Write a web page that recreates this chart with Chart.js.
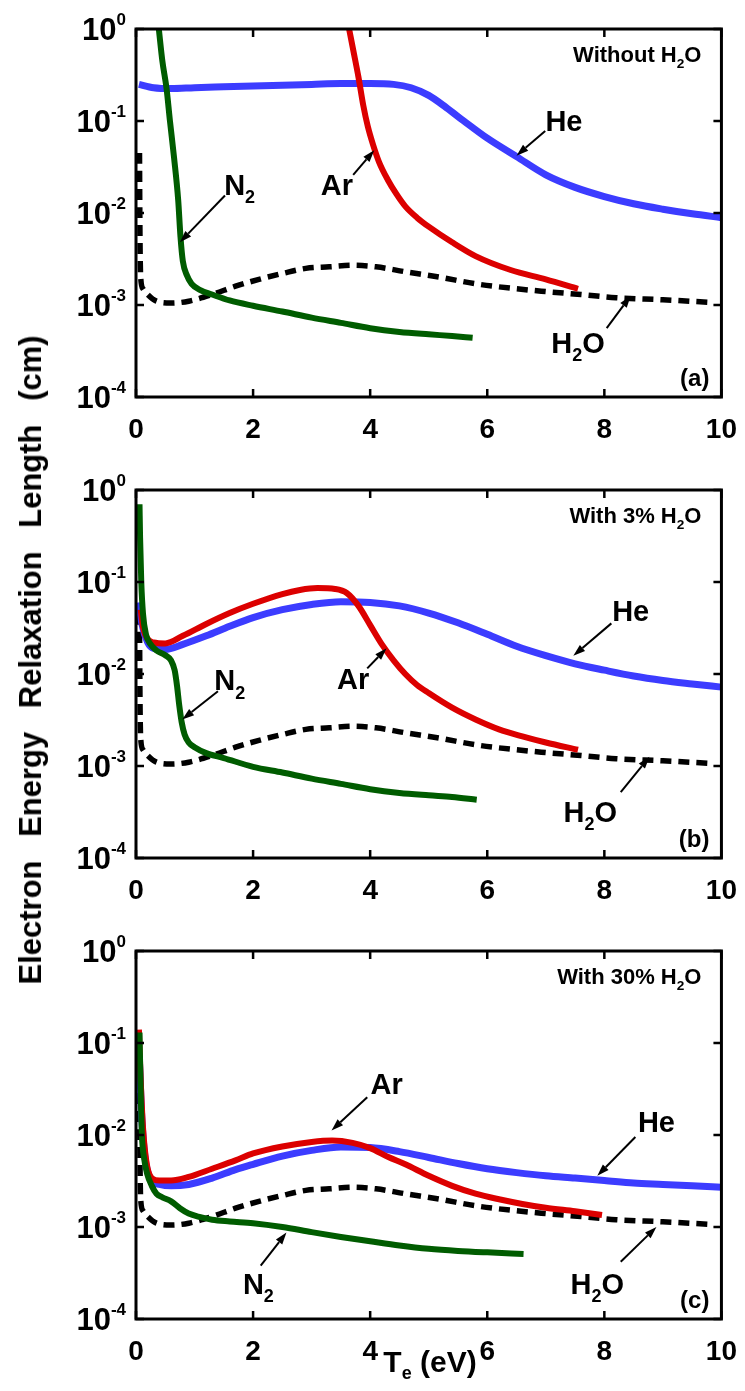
<!DOCTYPE html>
<html>
<head>
<meta charset="utf-8">
<script src="https://cdn.jsdelivr.net/npm/chart.js@4.4.0/dist/chart.umd.min.js"></script>
<style>
  body { margin: 0; background: #fff; }
  #wrap { position: relative; width: 745px; height: 1391px; overflow: hidden; background: #fff; }
  canvas { position: absolute; left: 0; }
  #ylab { position: absolute; left: 31px; top: 660px; transform: translate(-50%, -50%) rotate(-90deg);
          white-space: nowrap; font: bold 31px "Liberation Sans", Arial, sans-serif; word-spacing: 15px; color: #000; }
  #xlab { position: absolute; left: 430px; top: 1364px; transform: translate(-50%, -50%);
          white-space: nowrap; font: bold 30px "Liberation Sans", Arial, sans-serif; color: #000; }
  #xlab sub { font-size: 18px; vertical-align: -7px; }
</style>
</head>
<body>
<div id="wrap">
  <canvas id="pa" width="745" height="461" style="top:0px"></canvas>
  <canvas id="pb" width="745" height="461" style="top:461px"></canvas>
  <canvas id="pc" width="745" height="469" style="top:922px"></canvas>
  <div id="ylab">Electron Energy Relaxation Length (cm)</div>
  <div id="xlab">T<sub>e</sub> (eV)</div>
</div>
<script>
// ---- data (Te in eV, relaxation length in cm) ----
const yTicks = [1, 0.1, 0.01, 0.001, 0.0001];
const xTicks = [0, 2, 4, 6, 8, 10];

// pure H2O, same curve in every panel
const te_H2O  = [0.06, 0.065, 0.07, 0.08, 0.12, 0.2, 0.35, 0.6, 0.9, 1.3, 1.7, 2.1, 2.5, 2.9, 3.3, 3.7, 4.1, 4.6, 5.2, 5.8, 6.5, 7.0, 7.6, 8.2, 9.0, 9.8];
const len_H2O = [0.045, 0.01, 0.004, 0.002, 0.0015, 0.0013, 0.0011, 0.00105, 0.0011, 0.0013, 0.0016, 0.0019, 0.0022, 0.0025, 0.0026, 0.0027, 0.0026, 0.0023, 0.002, 0.0017, 0.0015, 0.0014, 0.0013, 0.0012, 0.00114, 0.00107];

// (a) without H2O
const te_He_a  = [0.05, 0.3, 0.6, 1.0, 1.5, 2.0, 2.5, 3.0, 3.5, 4.0, 4.4, 4.7, 5.0, 5.3, 5.6, 6.0, 6.5, 7.0, 7.5, 8.0, 8.5, 9.0, 9.5, 10];
const len_He_a = [0.25, 0.23, 0.225, 0.23, 0.235, 0.24, 0.245, 0.25, 0.255, 0.255, 0.25, 0.23, 0.19, 0.14, 0.1, 0.065, 0.041, 0.026, 0.019, 0.0151, 0.0126, 0.011, 0.0098, 0.0089];
const te_Ar_a  = [3.64, 3.72, 3.8, 3.88, 3.96, 4.05, 4.15, 4.3, 4.45, 4.6, 4.8, 5.0, 5.4, 5.8, 6.4, 7.0, 7.55];
const len_Ar_a = [1.0, 0.55, 0.3, 0.15, 0.087, 0.055, 0.036, 0.023, 0.016, 0.0118, 0.0089, 0.0071, 0.0048, 0.0034, 0.0024, 0.0019, 0.0015];
const te_N2_a  = [0.39, 0.45, 0.52, 0.58, 0.65, 0.72, 0.76, 0.8, 0.87, 0.95, 1.1, 1.3, 1.6, 2.0, 2.5, 3.0, 3.5, 4.0, 4.5, 5.0, 5.4, 5.75];
const len_N2_a = [1.0, 0.45, 0.23, 0.1, 0.04, 0.014, 0.0055, 0.003, 0.0021, 0.0017, 0.00145, 0.0013, 0.00112, 0.00098, 0.00085, 0.00073, 0.00064, 0.00056, 0.00051, 0.00048, 0.00046, 0.00044];

// (b) with 3% H2O
const te_He_b  = [0.05, 0.1, 0.2, 0.3, 0.5, 0.8, 1.2, 1.6, 2.0, 2.5, 3.0, 3.5, 4.0, 4.5, 5.0, 5.5, 6.0, 6.5, 7.0, 7.5, 8.0, 8.5, 9.0, 9.5, 10];
const len_He_b = [0.06, 0.035, 0.022, 0.019, 0.0185, 0.021, 0.026, 0.033, 0.041, 0.05, 0.057, 0.061, 0.06, 0.055, 0.046, 0.036, 0.027, 0.02, 0.0158, 0.0129, 0.011, 0.0095, 0.0085, 0.0078, 0.0072];
const te_Ar_b  = [0.08, 0.12, 0.2, 0.3, 0.5, 0.8, 1.2, 1.6, 2.0, 2.5, 2.8, 3.1, 3.4, 3.6, 3.8, 4.0, 4.2, 4.4, 4.6, 4.8, 5.0, 5.4, 5.8, 6.2, 6.6, 7.0, 7.55];
const len_Ar_b = [0.05, 0.032, 0.024, 0.022, 0.0215, 0.026, 0.035, 0.046, 0.058, 0.074, 0.082, 0.086, 0.084, 0.076, 0.055, 0.034, 0.021, 0.0141, 0.01, 0.0076, 0.0062, 0.0043, 0.0032, 0.0025, 0.0021, 0.0018, 0.0015];
const te_N2_b  = [0.06, 0.07, 0.09, 0.12, 0.17, 0.25, 0.35, 0.5, 0.6, 0.66, 0.7, 0.74, 0.78, 0.83, 0.9, 1.0, 1.2, 1.5, 2.0, 2.5, 3.0, 3.5, 4.0, 4.5, 5.0, 5.4, 5.82];
const len_N2_b = [0.7, 0.3, 0.1, 0.045, 0.027, 0.021, 0.018, 0.016, 0.014, 0.011, 0.0075, 0.0045, 0.003, 0.0022, 0.0018, 0.0016, 0.00138, 0.00122, 0.00098, 0.00085, 0.00073, 0.00064, 0.00056, 0.00051, 0.00048, 0.00046, 0.00043];

// (c) with 30% H2O
const te_He_c  = [0.06, 0.1, 0.15, 0.25, 0.4, 0.6, 0.9, 1.3, 1.7, 2.0, 2.5, 3.0, 3.5, 4.0, 4.5, 5.0, 5.5, 6.0, 6.5, 7.0, 7.5, 8.0, 8.5, 9.0, 9.5, 10];
const len_He_c = [0.06, 0.015, 0.006, 0.0033, 0.0029, 0.0028, 0.0029, 0.0034, 0.0042, 0.0048, 0.0059, 0.0068, 0.0074, 0.0073, 0.0066, 0.0057, 0.0049, 0.0043, 0.0039, 0.0036, 0.0034, 0.0032, 0.003, 0.0029, 0.0028, 0.0027];
const te_Ar_c  = [0.05, 0.08, 0.12, 0.18, 0.27, 0.4, 0.6, 0.9, 1.3, 1.7, 2.0, 2.5, 3.0, 3.35, 3.7, 4.0, 4.3, 4.6, 5.0, 5.4, 5.8, 6.2, 6.6, 7.0, 7.5, 7.96];
const len_Ar_c = [0.14, 0.04, 0.012, 0.005, 0.0034, 0.0032, 0.0032, 0.0035, 0.0043, 0.0053, 0.0063, 0.0075, 0.0084, 0.0087, 0.0082, 0.0072, 0.0058, 0.0048, 0.0036, 0.0028, 0.0023, 0.002, 0.00178, 0.00162, 0.00148, 0.00135];
const te_N2_c  = [0.06, 0.08, 0.1, 0.14, 0.19, 0.27, 0.35, 0.45, 0.6, 0.75, 0.9, 1.1, 1.3, 1.6, 2.0, 2.5, 3.0, 3.5, 4.0, 4.5, 5.0, 5.5, 6.0, 6.62];
const len_N2_c = [0.13, 0.03, 0.0103, 0.0055, 0.0038, 0.0028, 0.0023, 0.0021, 0.0019, 0.0016, 0.0014, 0.00128, 0.0012, 0.00115, 0.0011, 0.001, 0.00088, 0.00078, 0.0007, 0.00063, 0.00058, 0.00055, 0.00053, 0.00051];

const FONT = '"Liberation Sans", Arial, sans-serif';
const BLUE = '#3c3cff', RED = '#dc0000', GREEN = '#005c00';

function pts(xs, ys) { return xs.map((x, i) => ({ x: x, y: ys[i] })); }

// label text is [string, isSubscript] pieces
function richText(ctx, parts, x, y, size, align) {
  let w = 0;
  parts.forEach(p => {
    ctx.font = 'bold ' + (p[1] ? size * 0.62 : size) + 'px ' + FONT;
    w += ctx.measureText(p[0]).width;
  });
  let cx = align === 'right' ? x - w : align === 'center' ? x - w / 2 : x;
  ctx.textAlign = 'left';
  ctx.textBaseline = 'alphabetic';
  ctx.fillStyle = '#000';
  parts.forEach(p => {
    ctx.font = 'bold ' + (p[1] ? size * 0.62 : size) + 'px ' + FONT;
    ctx.fillText(p[0], cx, p[1] ? y + size * 0.28 : y);
    cx += ctx.measureText(p[0]).width;
  });
}

function arrow(ctx, x1, y1, x2, y2) {
  ctx.save();
  ctx.strokeStyle = '#000';
  ctx.fillStyle = '#000';
  ctx.lineWidth = 2;
  const a = Math.atan2(y2 - y1, x2 - x1);
  const L = 12, W = 4;
  const bx = x2 - L * Math.cos(a), by = y2 - L * Math.sin(a);
  ctx.beginPath(); ctx.moveTo(x1, y1); ctx.lineTo(bx, by); ctx.stroke();
  ctx.beginPath();
  ctx.moveTo(x2, y2);
  ctx.lineTo(bx + W * Math.sin(a), by - W * Math.cos(a));
  ctx.lineTo(bx - W * Math.sin(a), by + W * Math.cos(a));
  ctx.closePath(); ctx.fill();
  ctx.restore();
}

// box, inward ticks, y tick labels (10^n)
const framePlugin = {
  id: 'frame',
  afterDraw(chart) {
    const ctx = chart.ctx, a = chart.chartArea;
    const xs = chart.scales.x, ys = chart.scales.y;
    ctx.save();
    ctx.strokeStyle = '#000';
    ctx.lineWidth = 3;
    ctx.strokeRect(a.left, a.top, a.right - a.left, a.bottom - a.top);
    ctx.lineWidth = 2.5;
    xTicks.forEach(v => {
      const px = xs.getPixelForValue(v);
      ctx.beginPath();
      ctx.moveTo(px, a.bottom); ctx.lineTo(px, a.bottom - 8);
      ctx.moveTo(px, a.top); ctx.lineTo(px, a.top + 8);
      ctx.stroke();
    });
    yTicks.forEach(v => {
      const py = ys.getPixelForValue(v);
      ctx.beginPath();
      ctx.moveTo(a.left, py); ctx.lineTo(a.left + 8, py);
      ctx.moveTo(a.right, py); ctx.lineTo(a.right - 8, py);
      ctx.stroke();
      const e = String(Math.round(Math.log10(v)));
      ctx.fillStyle = '#000';
      ctx.textBaseline = 'alphabetic';
      ctx.textAlign = 'right';
      ctx.font = 'bold 17px ' + FONT;
      const ew = ctx.measureText(e).width;
      const right = a.left - 10;
      ctx.fillText(e, right, py - 4);
      ctx.font = 'bold 31px ' + FONT;
      ctx.fillText('10', right - ew, py + 11);
    });
    ctx.restore();
  }
};

const notesPlugin = {
  id: 'notes',
  afterDraw(chart, args, opts) {
    const ctx = chart.ctx, a = chart.chartArea;
    const xs = chart.scales.x, ys = chart.scales.y;
    richText(ctx, opts.title, a.right - 20, a.top + 33, 22, 'right');
    richText(ctx, [[opts.tag, 0]], a.right - 12, a.bottom - 11, 24, 'right');
    opts.notes.forEach(n => {
      const lx = xs.getPixelForValue(n.at[0]), ly = ys.getPixelForValue(n.at[1]);
      richText(ctx, n.text, lx, ly + 10, 29, 'center');
      arrow(ctx, xs.getPixelForValue(n.from[0]), ys.getPixelForValue(n.from[1]),
                 xs.getPixelForValue(n.to[0]), ys.getPixelForValue(n.to[1]));
    });
  }
};

function line(data, color, width, order, dash) {
  return {
    data: data, borderColor: color, borderWidth: width, order: order,
    borderDash: dash || [], borderCapStyle: 'butt', borderJoinStyle: 'round',
    pointRadius: 0, fill: false, cubicInterpolationMode: 'monotone'
  };
}

function makePanel(id, he, ar, n2, title, tag, notes) {
  const cv = document.getElementById(id);
  const axisH = cv.height - 29 - 368;
  new Chart(cv, {
    type: 'line',
    data: {
      datasets: [
        line(n2, GREEN, 6, 0),
        line(ar, RED, 6, 1),
        line(he, BLUE, 7, 2),
        line(pts(te_H2O, len_H2O), '#000', 5.5, 3, [11, 7])
      ]
    },
    options: {
      responsive: false,
      animation: false,
      events: [],
      layout: { padding: { top: 29, right: 21, left: 0, bottom: 0 } },
      plugins: {
        legend: { display: false },
        tooltip: { enabled: false },
        notes: { title: title, tag: tag, notes: notes }
      },
      scales: {
        x: {
          type: 'linear', min: 0, max: 10,
          afterBuildTicks: s => { s.ticks = xTicks.map(v => ({ value: v })); },
          ticks: { color: '#000', font: { family: FONT, size: 28, weight: 'bold' }, padding: 8, autoSkip: false, maxRotation: 0 },
          grid: { display: false }, border: { display: false },
          afterFit: s => { s.height = axisH; }
        },
        y: {
          type: 'logarithmic', min: 0.0001, max: 1,
          afterBuildTicks: s => { s.ticks = yTicks.map(v => ({ value: v })); },
          ticks: { display: false },
          grid: { display: false }, border: { display: false },
          afterFit: s => { s.width = 136; }
        }
      }
    },
    plugins: [framePlugin, notesPlugin]
  });
}

const H2Otxt = [['H', 0], ['2', 1], ['O', 0]];
const N2txt = [['N', 0], ['2', 1]];

makePanel('pa', pts(te_He_a, len_He_a), pts(te_Ar_a, len_Ar_a), pts(te_N2_a, len_N2_a),
  [['Without H', 0], ['2', 1], ['O', 0]], '(a)', [
    { text: [['He', 0]], at: [7.31, 0.1], from: [6.99, 0.078], to: [6.5, 0.042] },
    { text: [['Ar', 0]], at: [3.43, 0.0204], from: [3.71, 0.026], to: [4.07, 0.048] },
    { text: N2txt, at: [1.77, 0.02], from: [1.52, 0.0155], to: [0.75, 0.0048] },
    { text: H2Otxt, at: [7.55, 0.00039], from: [8.04, 0.00056], to: [8.45, 0.00126] }
  ]);

makePanel('pb', pts(te_He_b, len_He_b), pts(te_Ar_b, len_Ar_b), pts(te_N2_b, len_N2_b),
  [['With 3% H', 0], ['2', 1], ['O', 0]], '(b)', [
    { text: [['He', 0]], at: [8.45, 0.049], from: [8.12, 0.0355], to: [7.47, 0.0158] },
    { text: [['Ar', 0]], at: [3.71, 0.0089], from: [3.95, 0.0115], to: [4.28, 0.019] },
    { text: N2txt, at: [1.6, 0.0085], from: [1.4, 0.0065], to: [0.79, 0.0032] },
    { text: H2Otxt, at: [7.76, 0.00032], from: [8.28, 0.00052], to: [8.77, 0.00126] }
  ]);

makePanel('pc', pts(te_He_c, len_He_c), pts(te_Ar_c, len_Ar_c), pts(te_N2_c, len_N2_c),
  [['With 30% H', 0], ['2', 1], ['O', 0]], '(c)', [
    { text: [['Ar', 0]], at: [4.28, 0.036], from: [3.95, 0.0257], to: [3.34, 0.0112] },
    { text: [['He', 0]], at: [8.89, 0.0138], from: [8.53, 0.0095], to: [7.88, 0.0036] },
    { text: N2txt, at: [2.09, 0.00024], from: [2.13, 0.00038], to: [2.57, 0.00087] },
    { text: H2Otxt, at: [7.88, 0.00024], from: [8.28, 0.00042], to: [8.89, 0.001] }
  ]);
</script>
</body>
</html>
